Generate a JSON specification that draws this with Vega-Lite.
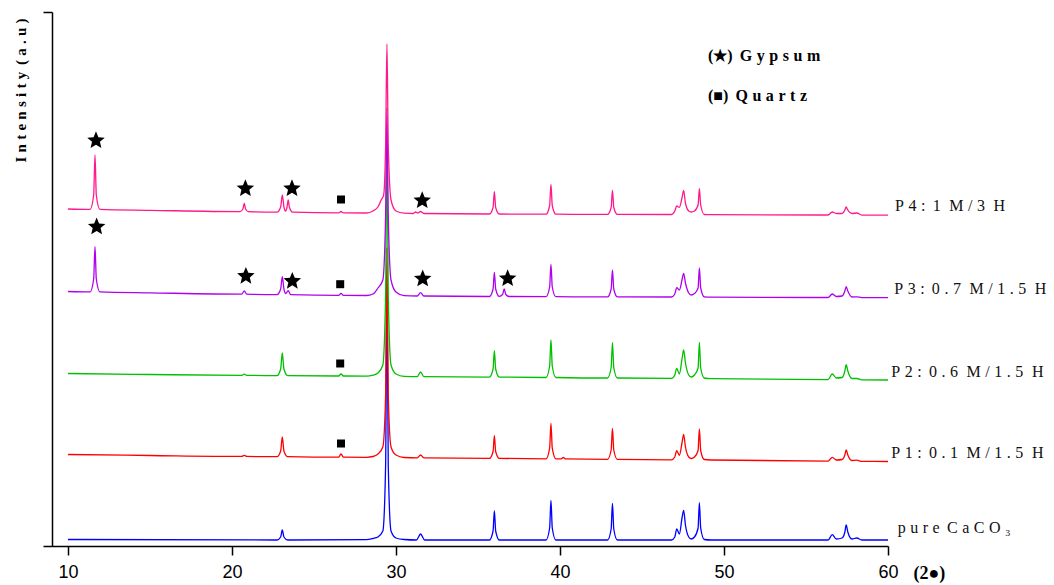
{
 "$schema": "https://vega.github.io/schema/vega-lite/v6.json",
 "width": 845, "height": 534,
 "autosize": "none",
 "padding": {"left": 43, "top": 12, "right": 166, "bottom": 39},
 "background": "white",
 "config": {"view": {"stroke": null}},
 "datasets": {
  "xrd": [
   {"s":"C","x":10,"y":5.5},{"s":"C","x":22.75,"y":5},{"s":"C","x":22.97,"y":8},{"s":"C","x":23.07,"y":15},{"s":"C","x":23.17,"y":8},{"s":"C","x":23.4,"y":5},
   {"s":"C","x":28.2,"y":5.3},{"s":"C","x":28.6,"y":6.5},{"s":"C","x":28.9,"y":8},{"s":"C","x":29.2,"y":14},{"s":"C","x":29.37,"y":80},{"s":"C","x":29.45,"y":255},{"s":"C","x":29.53,"y":80},{"s":"C","x":29.7,"y":14},{"s":"C","x":30.0,"y":7},{"s":"C","x":30.5,"y":5.5},
   {"s":"C","x":31.25,"y":5},{"s":"C","x":31.5,"y":11},{"s":"C","x":31.75,"y":5},
   {"s":"C","x":35.7,"y":5},{"s":"C","x":35.92,"y":14},{"s":"C","x":36.0,"y":34.3},{"s":"C","x":36.08,"y":14},{"s":"C","x":36.3,"y":5},
   {"s":"C","x":39.15,"y":5},{"s":"C","x":39.37,"y":17},{"s":"C","x":39.45,"y":44.7},{"s":"C","x":39.53,"y":17},{"s":"C","x":39.75,"y":5},
   {"s":"C","x":42.9,"y":5},{"s":"C","x":43.12,"y":16},{"s":"C","x":43.2,"y":41.7},{"s":"C","x":43.28,"y":16},{"s":"C","x":43.5,"y":5},
   {"s":"C","x":46.8,"y":5},{"s":"C","x":47.0,"y":8},{"s":"C","x":47.12,"y":16},{"s":"C","x":47.28,"y":11},{"s":"C","x":47.45,"y":28},{"s":"C","x":47.54,"y":34.7},{"s":"C","x":47.65,"y":20},{"s":"C","x":47.85,"y":8},{"s":"C","x":48.0,"y":6},{"s":"C","x":48.2,"y":8},{"s":"C","x":48.42,"y":17},{"s":"C","x":48.5,"y":42.3},{"s":"C","x":48.58,"y":17},{"s":"C","x":48.8,"y":5.5},
   {"s":"C","x":49.2,"y":5},{"s":"C","x":56.35,"y":5},{"s":"C","x":56.6,"y":10.3},{"s":"C","x":56.85,"y":6},{"s":"C","x":57.2,"y":7},{"s":"C","x":57.37,"y":13},{"s":"C","x":57.45,"y":20},{"s":"C","x":57.55,"y":13},{"s":"C","x":57.8,"y":6},{"s":"C","x":58.1,"y":7},{"s":"C","x":58.4,"y":5},{"s":"C","x":60,"y":5},

   {"s":"P1","x":10,"y":90.5},{"s":"P1","x":15,"y":89.5},
   {"s":"P1","x":20.6,"y":88.6},{"s":"P1","x":20.75,"y":89.6},{"s":"P1","x":20.9,"y":88.6},
   {"s":"P1","x":22.75,"y":88.3},{"s":"P1","x":22.97,"y":94},{"s":"P1","x":23.07,"y":108},{"s":"P1","x":23.17,"y":94},{"s":"P1","x":23.4,"y":88.3},
   {"s":"P1","x":26.5,"y":87.8},{"s":"P1","x":26.65,"y":91},{"s":"P1","x":26.8,"y":87.8},
   {"s":"P1","x":28.2,"y":87.7},{"s":"P1","x":28.6,"y":88.5},{"s":"P1","x":28.9,"y":91},{"s":"P1","x":29.2,"y":98},{"s":"P1","x":29.37,"y":150},{"s":"P1","x":29.45,"y":297},{"s":"P1","x":29.53,"y":150},{"s":"P1","x":29.7,"y":98},{"s":"P1","x":30.0,"y":90},{"s":"P1","x":30.5,"y":87.5},
   {"s":"P1","x":31.3,"y":87.2},{"s":"P1","x":31.5,"y":90},{"s":"P1","x":31.7,"y":87.2},
   {"s":"P1","x":35.7,"y":86.6},{"s":"P1","x":35.92,"y":93.5},{"s":"P1","x":36.0,"y":109.3},{"s":"P1","x":36.08,"y":93.5},{"s":"P1","x":36.3,"y":86.6},
   {"s":"P1","x":39.15,"y":86.2},{"s":"P1","x":39.37,"y":96.8},{"s":"P1","x":39.45,"y":121.7},{"s":"P1","x":39.53,"y":96.8},{"s":"P1","x":39.75,"y":86.2},
   {"s":"P1","x":40.05,"y":86.1},{"s":"P1","x":40.2,"y":87.5},{"s":"P1","x":40.35,"y":86.1},
   {"s":"P1","x":42.9,"y":85.7},{"s":"P1","x":43.12,"y":95},{"s":"P1","x":43.2,"y":116.7},{"s":"P1","x":43.28,"y":95},{"s":"P1","x":43.5,"y":85.7},
   {"s":"P1","x":46.8,"y":85.2},{"s":"P1","x":47.0,"y":88},{"s":"P1","x":47.12,"y":94.3},{"s":"P1","x":47.28,"y":89.7},{"s":"P1","x":47.45,"y":103},{"s":"P1","x":47.54,"y":110.7},{"s":"P1","x":47.65,"y":98},{"s":"P1","x":47.85,"y":88},{"s":"P1","x":48.0,"y":86.5},{"s":"P1","x":48.2,"y":88},{"s":"P1","x":48.42,"y":94.5},{"s":"P1","x":48.5,"y":116},{"s":"P1","x":48.58,"y":94.5},{"s":"P1","x":48.8,"y":85.5},
   {"s":"P1","x":49.2,"y":85},{"s":"P1","x":56.35,"y":83.9},{"s":"P1","x":56.6,"y":87.7},{"s":"P1","x":56.85,"y":85},{"s":"P1","x":57.2,"y":85.5},{"s":"P1","x":57.37,"y":90},{"s":"P1","x":57.45,"y":95},{"s":"P1","x":57.55,"y":90},{"s":"P1","x":57.8,"y":84.5},{"s":"P1","x":58.1,"y":84.8},{"s":"P1","x":58.4,"y":83.6},{"s":"P1","x":60,"y":83.5},

   {"s":"P2","x":10,"y":171.5},{"s":"P2","x":15,"y":170.5},
   {"s":"P2","x":20.6,"y":169.7},{"s":"P2","x":20.75,"y":170.8},{"s":"P2","x":20.9,"y":169.7},
   {"s":"P2","x":22.75,"y":169.4},{"s":"P2","x":22.97,"y":176},{"s":"P2","x":23.07,"y":192},{"s":"P2","x":23.17,"y":176},{"s":"P2","x":23.4,"y":169.4},
   {"s":"P2","x":26.5,"y":169},{"s":"P2","x":26.65,"y":171},{"s":"P2","x":26.8,"y":169},
   {"s":"P2","x":28.2,"y":168.9},{"s":"P2","x":28.6,"y":169.8},{"s":"P2","x":28.9,"y":172},{"s":"P2","x":29.2,"y":180},{"s":"P2","x":29.37,"y":250},{"s":"P2","x":29.45,"y":412},{"s":"P2","x":29.53,"y":250},{"s":"P2","x":29.7,"y":180},{"s":"P2","x":30.0,"y":171},{"s":"P2","x":30.5,"y":168.6},
   {"s":"P2","x":31.3,"y":168.4},{"s":"P2","x":31.5,"y":173},{"s":"P2","x":31.7,"y":168.4},
   {"s":"P2","x":35.7,"y":167.9},{"s":"P2","x":35.92,"y":176},{"s":"P2","x":36.0,"y":194.3},{"s":"P2","x":36.08,"y":176},{"s":"P2","x":36.3,"y":167.9},
   {"s":"P2","x":39.15,"y":167.5},{"s":"P2","x":39.37,"y":179},{"s":"P2","x":39.45,"y":205},{"s":"P2","x":39.53,"y":179},{"s":"P2","x":39.75,"y":167.5},
   {"s":"P2","x":42.9,"y":167},{"s":"P2","x":43.12,"y":177.5},{"s":"P2","x":43.2,"y":202.3},{"s":"P2","x":43.28,"y":177.5},{"s":"P2","x":43.5,"y":167},
   {"s":"P2","x":46.8,"y":166.6},{"s":"P2","x":47.0,"y":170},{"s":"P2","x":47.12,"y":176.7},{"s":"P2","x":47.28,"y":171},{"s":"P2","x":47.45,"y":187},{"s":"P2","x":47.54,"y":195},{"s":"P2","x":47.65,"y":182},{"s":"P2","x":47.85,"y":170},{"s":"P2","x":48.0,"y":168},{"s":"P2","x":48.2,"y":170},{"s":"P2","x":48.42,"y":177},{"s":"P2","x":48.5,"y":202.7},{"s":"P2","x":48.58,"y":177},{"s":"P2","x":48.8,"y":167},
   {"s":"P2","x":49.2,"y":166.3},{"s":"P2","x":56.35,"y":165.4},{"s":"P2","x":56.6,"y":171},{"s":"P2","x":56.85,"y":167},{"s":"P2","x":57.2,"y":167.5},{"s":"P2","x":57.37,"y":174},{"s":"P2","x":57.45,"y":180.3},{"s":"P2","x":57.55,"y":174},{"s":"P2","x":57.8,"y":166.5},{"s":"P2","x":58.1,"y":166.5},{"s":"P2","x":58.4,"y":165.2},{"s":"P2","x":60,"y":165},

   {"s":"P3","x":10,"y":253.5},{"s":"P3","x":11.35,"y":253.1},{"s":"P3","x":11.57,"y":266},{"s":"P3","x":11.65,"y":298.3},{"s":"P3","x":11.73,"y":266},{"s":"P3","x":11.95,"y":253.1},{"s":"P3","x":15,"y":252.2},
   {"s":"P3","x":20.6,"y":250.9},{"s":"P3","x":20.75,"y":254},{"s":"P3","x":20.9,"y":250.9},
   {"s":"P3","x":22.75,"y":250.4},{"s":"P3","x":22.97,"y":256},{"s":"P3","x":23.07,"y":268.3},{"s":"P3","x":23.17,"y":256},{"s":"P3","x":23.28,"y":251.5},{"s":"P3","x":23.43,"y":254.3},{"s":"P3","x":23.58,"y":250.4},
   {"s":"P3","x":26.5,"y":249.7},{"s":"P3","x":26.65,"y":251.7},{"s":"P3","x":26.8,"y":249.7},
   {"s":"P3","x":28.2,"y":249.5},{"s":"P3","x":28.6,"y":251},{"s":"P3","x":28.9,"y":257},{"s":"P3","x":29.2,"y":265},{"s":"P3","x":29.37,"y":330},{"s":"P3","x":29.45,"y":437},{"s":"P3","x":29.53,"y":330},{"s":"P3","x":29.7,"y":265},{"s":"P3","x":30.0,"y":253},{"s":"P3","x":30.5,"y":249.3},
   {"s":"P3","x":31.3,"y":249},{"s":"P3","x":31.5,"y":252.3},{"s":"P3","x":31.7,"y":249},
   {"s":"P3","x":35.7,"y":248.5},{"s":"P3","x":35.92,"y":256},{"s":"P3","x":36.0,"y":272.7},{"s":"P3","x":36.08,"y":256},{"s":"P3","x":36.3,"y":248.6},{"s":"P3","x":36.5,"y":250.5},{"s":"P3","x":36.6,"y":256},{"s":"P3","x":36.7,"y":250.5},{"s":"P3","x":36.9,"y":248.5},
   {"s":"P3","x":39.15,"y":248.3},{"s":"P3","x":39.37,"y":258},{"s":"P3","x":39.45,"y":280.7},{"s":"P3","x":39.53,"y":258},{"s":"P3","x":39.75,"y":248.3},
   {"s":"P3","x":42.9,"y":248.1},{"s":"P3","x":43.12,"y":256},{"s":"P3","x":43.2,"y":275},{"s":"P3","x":43.28,"y":256},{"s":"P3","x":43.5,"y":248.1},
   {"s":"P3","x":46.8,"y":248},{"s":"P3","x":47.0,"y":251},{"s":"P3","x":47.12,"y":257.3},{"s":"P3","x":47.28,"y":255},{"s":"P3","x":47.45,"y":266},{"s":"P3","x":47.54,"y":271.7},{"s":"P3","x":47.65,"y":262},{"s":"P3","x":47.85,"y":252},{"s":"P3","x":48.0,"y":250},{"s":"P3","x":48.2,"y":251.5},{"s":"P3","x":48.42,"y":257},{"s":"P3","x":48.5,"y":277},{"s":"P3","x":48.58,"y":257},{"s":"P3","x":48.8,"y":248.2},
   {"s":"P3","x":49.2,"y":247.8},{"s":"P3","x":56.35,"y":247.5},{"s":"P3","x":56.6,"y":251},{"s":"P3","x":56.85,"y":248.5},{"s":"P3","x":57.2,"y":249},{"s":"P3","x":57.37,"y":254},{"s":"P3","x":57.45,"y":258.3},{"s":"P3","x":57.55,"y":254},{"s":"P3","x":57.8,"y":248},{"s":"P3","x":58.1,"y":248.2},{"s":"P3","x":58.4,"y":247.4},{"s":"P3","x":60,"y":247.3},

   {"s":"P4","x":10,"y":336},{"s":"P4","x":11.35,"y":335.6},{"s":"P4","x":11.57,"y":350},{"s":"P4","x":11.65,"y":390},{"s":"P4","x":11.73,"y":350},{"s":"P4","x":11.95,"y":335.6},{"s":"P4","x":15,"y":334.7},
   {"s":"P4","x":20.5,"y":333.4},{"s":"P4","x":20.67,"y":336},{"s":"P4","x":20.75,"y":341.7},{"s":"P4","x":20.83,"y":336},{"s":"P4","x":21.0,"y":333.4},
   {"s":"P4","x":22.75,"y":332.9},{"s":"P4","x":22.97,"y":338},{"s":"P4","x":23.07,"y":350},{"s":"P4","x":23.17,"y":338},{"s":"P4","x":23.27,"y":334},{"s":"P4","x":23.36,"y":338},{"s":"P4","x":23.43,"y":345},{"s":"P4","x":23.5,"y":338},{"s":"P4","x":23.7,"y":332.8},
   {"s":"P4","x":26.5,"y":332.2},{"s":"P4","x":26.65,"y":333.5},{"s":"P4","x":26.8,"y":332.2},
   {"s":"P4","x":28.2,"y":332},{"s":"P4","x":28.6,"y":334},{"s":"P4","x":28.9,"y":338},{"s":"P4","x":29.1,"y":345},{"s":"P4","x":29.25,"y":350},{"s":"P4","x":29.37,"y":400},{"s":"P4","x":29.45,"y":501},{"s":"P4","x":29.53,"y":400},{"s":"P4","x":29.7,"y":345},{"s":"P4","x":30.0,"y":334},{"s":"P4","x":30.5,"y":331.8},
   {"s":"P4","x":31.05,"y":331.5},{"s":"P4","x":31.2,"y":333},{"s":"P4","x":31.33,"y":331.8},{"s":"P4","x":31.5,"y":333.5},{"s":"P4","x":31.7,"y":331.5},
   {"s":"P4","x":35.7,"y":331},{"s":"P4","x":35.92,"y":337.5},{"s":"P4","x":36.0,"y":353.3},{"s":"P4","x":36.08,"y":337.5},{"s":"P4","x":36.3,"y":331},
   {"s":"P4","x":39.15,"y":330.8},{"s":"P4","x":39.37,"y":339.5},{"s":"P4","x":39.45,"y":360.7},{"s":"P4","x":39.53,"y":339.5},{"s":"P4","x":39.75,"y":330.8},
   {"s":"P4","x":42.9,"y":330.6},{"s":"P4","x":43.12,"y":337.5},{"s":"P4","x":43.2,"y":354.7},{"s":"P4","x":43.28,"y":337.5},{"s":"P4","x":43.5,"y":330.6},
   {"s":"P4","x":46.8,"y":330.5},{"s":"P4","x":47.0,"y":334},{"s":"P4","x":47.12,"y":339},{"s":"P4","x":47.28,"y":337.7},{"s":"P4","x":47.45,"y":348},{"s":"P4","x":47.54,"y":354.7},{"s":"P4","x":47.65,"y":342},{"s":"P4","x":47.85,"y":334},{"s":"P4","x":48.0,"y":333},{"s":"P4","x":48.2,"y":334},{"s":"P4","x":48.42,"y":340},{"s":"P4","x":48.5,"y":356.3},{"s":"P4","x":48.58,"y":340},{"s":"P4","x":48.8,"y":330.5},
   {"s":"P4","x":49.2,"y":330.3},{"s":"P4","x":56.35,"y":330},{"s":"P4","x":56.6,"y":333},{"s":"P4","x":56.85,"y":331.5},{"s":"P4","x":57.2,"y":331.5},{"s":"P4","x":57.37,"y":335},{"s":"P4","x":57.45,"y":338},{"s":"P4","x":57.55,"y":335},{"s":"P4","x":57.8,"y":331.5},{"s":"P4","x":58.1,"y":332},{"s":"P4","x":58.4,"y":329.9},{"s":"P4","x":60,"y":329.8}
  ],
  "phases": [
   {"phase":"Gypsum","x":11.71,"y":404.5},{"phase":"Gypsum","x":20.82,"y":356.5},{"phase":"Gypsum","x":23.66,"y":356.5},{"phase":"Gypsum","x":31.6,"y":344.5},
   {"phase":"Gypsum","x":11.75,"y":318.2},{"phase":"Gypsum","x":20.85,"y":268.8},{"phase":"Gypsum","x":23.68,"y":263.8},{"phase":"Gypsum","x":31.63,"y":266.2},{"phase":"Gypsum","x":36.81,"y":266.5},
   {"phase":"Quartz","x":26.65,"y":345.5},{"phase":"Quartz","x":26.6,"y":260.8},{"phase":"Quartz","x":26.6,"y":181.5},{"phase":"Quartz","x":26.65,"y":101.5}
  ],
  "serieslabels": [
   {"t":"P\u2009\u200A4\u2009\u200A:\u2009 1\u2009\u200A M\u2009\u200A/\u2009\u200A3\u2009\u200A H","x":60.43,"y":338.8},
   {"t":"P\u2009\u200A3\u2009\u200A:\u2009 0\u2009\u200A.\u2009\u200A7\u2009\u200A M\u2009\u200A/\u2009\u200A1\u2009\u200A.\u2009\u200A5\u2009\u200A H","x":60.38,"y":256.5},
   {"t":"P\u2009\u200A2\u2009\u200A:\u2009 0\u2009\u200A.\u2009\u200A6\u2009\u200A M\u2009\u200A/\u2009\u200A1\u2009\u200A.\u2009\u200A5\u2009\u200A H","x":60.2,"y":172.8},
   {"t":"P\u2009\u200A1\u2009\u200A:\u2009 0\u2009\u200A.\u2009\u200A1\u2009\u200A M\u2009\u200A/\u2009\u200A1\u2009\u200A.\u2009\u200A5\u2009\u200A H","x":60.2,"y":92.2},
   {"t":"p\u2009\u200Au\u2009\u200Ar\u2009\u200Ae\u2009 C\u2009\u200Aa\u2009\u200AC\u2009\u200AO\u2009\u200A\u2083","x":60.59,"y":17.5}
  ],
  "keytext": [
   {"t":"(\u2605)\u2009 G\u2009\u200Ay\u2009\u200Ap\u2009\u200As\u2009\u200Au\u2009\u200Am","x":49.02,"y":489.5},
   {"t":"(\u25A0)\u2009 Q\u2009\u200Au\u2009\u200Aa\u2009\u200Ar\u2009\u200At\u2009\u200Az","x":49.02,"y":449}
  ]
 },
 "layer": [
  {
   "data": {"name": "xrd"},
   "mark": {"type": "line", "strokeWidth": 1.3, "interpolate": "monotone"},
   "encoding": {
    "x": {"field": "x", "type": "quantitative",
     "scale": {"domain": [8.48, 60], "nice": false, "zero": false},
     "axis": {"values": [10, 20, 30, 40, 50, 60], "grid": false, "domainColor": "black", "domainWidth": 1.5,
      "tickColor": "black", "tickWidth": 1.5, "tickSize": 9, "labelFont": "Liberation Sans", "labelFontSize": 18,
      "labelColor": "black", "labelPadding": 17, "labelBaseline": "middle", "labelFlush": false, "labelOverlap": false,
      "title": "(2\u25CF)", "titleX": 870, "titleY": 27, "titleAlign": "left", "titleBaseline": "middle",
      "titleFont": "Liberation Serif", "titleFontSize": 18, "titleFontWeight": "bold", "titleColor": "black"}},
    "y": {"field": "y", "type": "quantitative",
     "scale": {"domain": [-1, 533], "nice": false, "zero": false},
     "axis": {"values": [533], "offset": -9, "labels": false, "grid": false, "tickSize": 9,
      "domainColor": "black", "domainWidth": 1.5, "tickColor": "black", "tickWidth": 1.5,
      "title": "I\u2009\u200An\u2009\u200At\u2009\u200Ae\u2009\u200An\u2009\u200As\u2009\u200Ai\u2009\u200At\u2009\u200Ay\u2009 (\u2009\u200Aa\u2009\u200A.\u2009\u200Au\u2009\u200A)",
      "titleX": -32, "titleY": 78, "titleAngle": -90, "titleAlign": "center", "titleBaseline": "middle",
      "titleFont": "Liberation Serif", "titleFontSize": 15, "titleFontWeight": "bold", "titleColor": "black"}},
    "color": {"field": "s", "type": "nominal",
     "scale": {"domain": ["C", "P1", "P2", "P3", "P4"], "range": ["#0000ff", "#ff0000", "#00c000", "#b000ee", "#ff1a8c"]},
     "legend": null}
   }
  },
  {
   "data": {"name": "phases"},
   "transform": [{"filter": "datum.phase == 'Gypsum'"}],
   "mark": {"type": "point", "shape": "M0,-1L0.2645,-0.364L0.9511,-0.309L0.428,0.139L0.5878,0.809L0,0.45L-0.5878,0.809L-0.428,0.139L-0.9511,-0.309L-0.2645,-0.364Z", "filled": true, "size": 340, "color": "black", "opacity": 1, "strokeWidth": 0},
   "encoding": {"x": {"field": "x", "type": "quantitative"}, "y": {"field": "y", "type": "quantitative"}}
  },
  {
   "data": {"name": "phases"},
   "transform": [{"filter": "datum.phase == 'Quartz'"}],
   "mark": {"type": "point", "shape": "square", "filled": true, "size": 64, "color": "black", "opacity": 1, "strokeWidth": 0},
   "encoding": {"x": {"field": "x", "type": "quantitative"}, "y": {"field": "y", "type": "quantitative"}}
  },
  {
   "data": {"name": "serieslabels"},
   "mark": {"type": "text", "align": "left", "baseline": "middle", "font": "Liberation Serif", "fontSize": 16, "color": "#111111"},
   "encoding": {"x": {"field": "x", "type": "quantitative"}, "y": {"field": "y", "type": "quantitative"}, "text": {"field": "t", "type": "nominal"}}
  },
  {
   "data": {"name": "keytext"},
   "mark": {"type": "text", "align": "left", "baseline": "middle", "font": "Liberation Serif", "fontSize": 16, "fontWeight": "bold", "color": "black"},
   "encoding": {"x": {"field": "x", "type": "quantitative"}, "y": {"field": "y", "type": "quantitative"}, "text": {"field": "t", "type": "nominal"}}
  }
 ]
}
